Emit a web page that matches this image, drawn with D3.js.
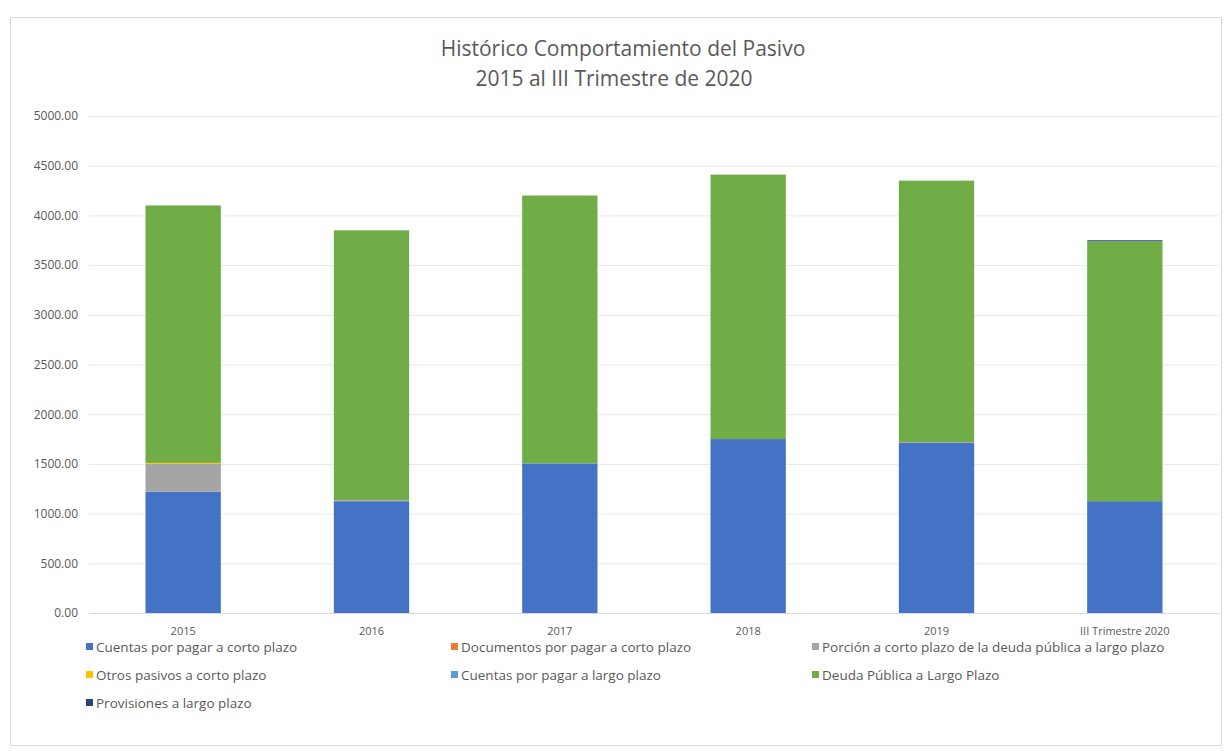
<!DOCTYPE html>
<html><head><meta charset="utf-8">
<script src="https://cdn.jsdelivr.net/npm/d3@7"></script>
<style>body{margin:0;background:#fff;font-family:"Open Sans","Noto Sans",sans-serif;}</style>
</head><body><svg id="c" width="1227" height="751"></svg>
<script>
const categories = ["2015","2016","2017","2018","2019","III Trimestre 2020"];
const seriesNames = [
  "Cuentas por pagar a corto plazo",
  "Documentos por pagar a corto plazo",
  "Porción a corto plazo de la deuda pública a largo plazo",
  "Otros pasivos a corto plazo",
  "Cuentas por pagar a largo plazo",
  "Deuda Pública a Largo Plazo",
  "Provisiones a largo plazo"
];
const seriesColors = ["#4472C4","#ED7D31","#A5A5A5","#FFC000","#5B9BD5","#70AD47","#264478"];
const cuentasCorto   = [1220, 1125, 1505, 1750, 1710, 1125];
const documentos     = [0, 0, 0, 0, 0, 0];
const porcion        = [280, 10, 0, 0, 10, 0];
const otros          = [10, 0, 0, 0, 0, 0];
const cuentasLargo   = [0, 0, 0, 0, 0, 0];
const deudaLargo     = [2590, 2715, 2695, 2660, 2630, 2615];
const provisiones    = [0, 0, 0, 0, 0, 10];
const yTicks = [0,500,1000,1500,2000,2500,3000,3500,4000,4500,5000];

const seriesValues = [cuentasCorto, documentos, porcion, otros, cuentasLargo, deudaLargo, provisiones];
const rows = categories.map((c,i)=>{const r={cat:c}; seriesNames.forEach((s,j)=>r[s]=seriesValues[j][i]); return r;});

const svg = d3.select("#c");
svg.append("rect").attr("x",10.5).attr("y",17.5).attr("width",1211).attr("height",728)
  .attr("fill","#fff").attr("stroke","#D9D9D9");

const m = {left:89, right:1219, top:116, bottom:613};
const x = d3.scaleBand().domain(categories).range([m.left,m.right]).paddingInner(0.6).paddingOuter(0.3);
const y = d3.scaleLinear().domain([0,5000]).range([m.bottom,m.top]);

svg.append("g").selectAll("line").data(yTicks).join("line")
  .attr("x1",m.left).attr("x2",m.right).attr("y1",d=>y(d)+0.5).attr("y2",d=>y(d)+0.5)
  .attr("stroke","#E8E8E8");

const yAxis = svg.append("g").attr("transform",`translate(${m.left-8},0)`)
  .call(d3.axisLeft(y).tickValues(yTicks).tickFormat(d3.format(".2f")).tickSize(0));
yAxis.select(".domain").remove();
yAxis.selectAll("text").attr("fill","#595959").style("font-size","12px").style("font-family","'Open Sans'");

const stack = d3.stack().keys(seriesNames)(rows);
svg.append("g").selectAll("g").data(stack).join("g")
  .attr("fill",(d,i)=>seriesColors[i])
  .selectAll("rect").data(d=>d).join("rect")
  .attr("x",d=>x(d.data.cat)).attr("width",x.bandwidth())
  .attr("y",d=>y(d[1])).attr("height",d=>y(d[0])-y(d[1]));

const xAxis = svg.append("g").attr("transform",`translate(0,${m.bottom})`)
  .call(d3.axisBottom(x).tickSize(0).tickPadding(14));
xAxis.select(".domain").attr("stroke","#D9D9D9");
xAxis.selectAll("text").attr("fill","#595959").style("font-size","11px").style("font-family","'Open Sans'");

svg.append("text").attr("x",623).attr("y",56).attr("text-anchor","middle")
  .attr("fill","#595959").style("font-size","21px").text("Histórico Comportamiento del Pasivo");
svg.append("text").attr("x",614).attr("y",86).attr("text-anchor","middle")
  .attr("fill","#595959").style("font-size","21px").text("2015 al III Trimestre de 2020");

const colX = [86, 451, 812];
const leg = svg.append("g").selectAll("g").data(seriesNames).join("g")
  .attr("transform",(d,i)=>`translate(${colX[i%3]},${647+Math.floor(i/3)*28})`);
leg.append("rect").attr("x",0).attr("y",-4).attr("width",7).attr("height",7).attr("fill",(d,i)=>seriesColors[i]);
leg.append("text").attr("x",10).attr("y",4.5).attr("fill","#595959").style("font-size","13.5px").text(d=>d);
</script></body></html>
